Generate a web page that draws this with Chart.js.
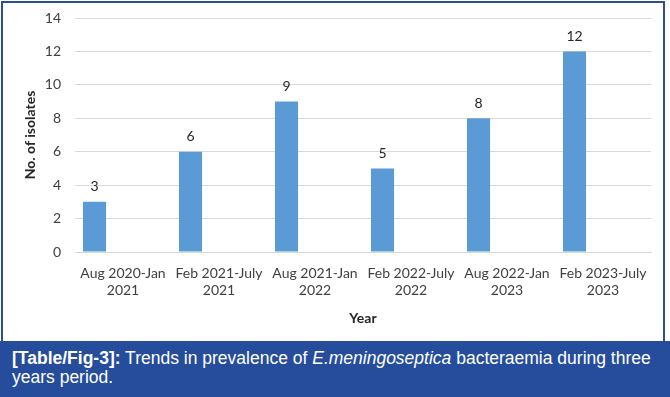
<!DOCTYPE html>
<html>
<head>
<meta charset="utf-8">
<script src="https://cdn.jsdelivr.net/npm/chart.js@4/dist/chart.umd.min.js"></script>
<style>
  html, body { margin: 0; padding: 0; background: #fff; }
  #wrap { position: relative; width: 670px; height: 397px; overflow: hidden; background: #fff; }
  #chartBox { position: absolute; left: 0; top: 0; width: 666px; height: 341px; }
  #frame { position: absolute; left: 1px; top: 1px; width: 664px; height: 346px; border: 2px solid #2b4f8f; box-sizing: border-box; pointer-events: none; z-index: 2; }
  #caption { position: absolute; left: 0; top: 341px; width: 670px; height: 56px; background: #264d9b; color: #fff; z-index: 3;
    font-family: "Liberation Sans Narrow", "Liberation Sans", Arial, sans-serif; font-size: 17.5px; line-height: 19px;
    padding: 8px 0 0 12px; box-sizing: border-box; letter-spacing: 0; }
  #caption b { font-weight: bold; }
</style>
</head>
<body>
<div id="wrap">
  <div id="chartBox"><canvas id="c" width="666" height="341"></canvas></div>
  <div id="frame"></div>
  <div id="caption"><b>[Table/Fig-3]:</b> Trends in prevalence of <i>E.meningoseptica</i> bacteraemia during three<br>years period.</div>
</div>
<script>
const categories = [
  ["Aug 2020-Jan", "2021"],
  ["Feb 2021-July", "2021"],
  ["Aug 2021-Jan", "2022"],
  ["Feb 2022-July", "2022"],
  ["Aug 2022-Jan", "2023"],
  ["Feb 2023-July", "2023"]
];
const isolates = [3, 6, 9, 5, 8, 12];
const emptySeriesA = [];
const emptySeriesB = [];
const yTicks = [0, 2, 4, 6, 8, 10, 12, 14];

const labelFont = 'Lato, "Open Sans", sans-serif';

const valueLabels = {
  id: 'valueLabels',
  afterDatasetsDraw(chart) {
    const ctx = chart.ctx;
    const meta = chart.getDatasetMeta(0);
    ctx.save();
    ctx.font = '14px ' + labelFont;
    ctx.fillStyle = '#262626';
    ctx.textAlign = 'center';
    ctx.textBaseline = 'bottom';
    meta.data.forEach((bar, i) => {
      ctx.fillText(String(isolates[i]), bar.x, bar.y - 8);
    });
    ctx.restore();
  }
};

new Chart(document.getElementById('c'), {
  type: 'bar',
  data: {
    labels: categories,
    datasets: [
      { data: isolates, backgroundColor: '#5b9bd5', borderWidth: 0 },
      { data: emptySeriesA, backgroundColor: '#ed7d31' },
      { data: emptySeriesB, backgroundColor: '#a5a5a5' }
    ]
  },
  options: {
    responsive: false,
    animation: false,
    devicePixelRatio: 1,
    categoryPercentage: 0.89,
    barPercentage: 0.81,
    layout: { padding: { top: 18, right: 15, left: 22, bottom: 14 } },
    plugins: { legend: { display: false }, tooltip: { enabled: false } },
    scales: {
      x: {
        grid: { display: false, drawTicks: false },
        border: { display: true, color: '#d9d9d9', width: 1 },
        ticks: { color: '#404040', font: { family: labelFont, size: 14 }, padding: 13, maxRotation: 0, autoSkip: false },
        title: { display: true, text: 'Year', color: '#262626', font: { family: labelFont, size: 14, weight: 'bold' }, padding: { top: 4, bottom: 0 } },
        afterFit(scale) { scale.height = 75; scale.paddingLeft = 0; scale.paddingRight = 0; }
      },
      y: {
        min: 0, max: 14,
        afterBuildTicks(scale) { scale.ticks = yTicks.map(v => ({ value: v })); },
        grid: { color: '#d9d9d9', drawTicks: false, lineWidth: 1 },
        border: { display: false },
        ticks: { color: '#404040', font: { family: labelFont, size: 14 }, padding: 14 },
        title: { display: true, text: 'No. of isolates', color: '#262626', font: { family: labelFont, size: 14, weight: 'bold' }, padding: { top: 0, bottom: 4 } },
        afterFit(scale) { scale.width = 53; scale.paddingTop = 0; scale.paddingBottom = 0; }
      }
    }
  },
  plugins: [valueLabels]
});
</script>
</body>
</html>
